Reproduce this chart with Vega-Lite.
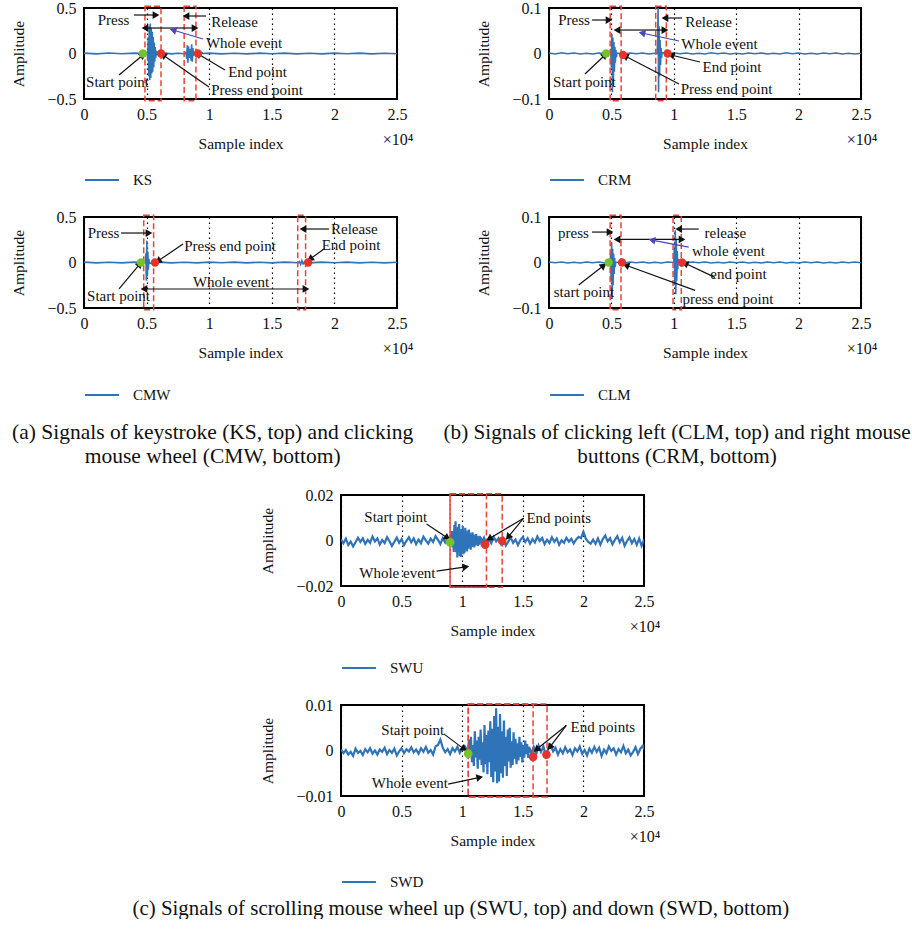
{
"$schema": "https://vega.github.io/schema/vega-lite/v6.json",
"background": "white",
"padding": {"left": 10, "top": -1, "right": 0, "bottom": 0},
"config": {
 "font": "Liberation Serif",
 "view": {"stroke": "black", "strokeWidth": 2},
 "axis": {"domain": false, "ticks": false, "labelFont": "Liberation Serif", "labelFontSize": 16, "labelColor": "#111", "titleFont": "Liberation Serif", "titleFontSize": 15.5, "titleFontWeight": "normal", "titleColor": "#111", "labelFlush": false, "labelOverlap": false, "grid": false},
 "axisX": {"grid": true, "gridColor": "black", "gridDash": [1.5, 3.5], "gridWidth": 1.2, "gridOpacity": 1, "labelPadding": 7, "titlePadding": 14},
 "axisY": {"grid": false, "labelPadding": 8, "titlePadding": 20},
 "legend": {"orient": "bottom", "offset": 10, "labelFont": "Liberation Serif", "labelFontSize": 15, "labelColor": "#111", "symbolType": "stroke", "symbolStrokeWidth": 2, "symbolSize": 1150, "labelOffset": 13, "padding": 0},
 "title": {"font": "Liberation Serif", "fontSize": 21.5, "fontWeight": "normal", "color": "#111", "orient": "bottom", "anchor": "middle", "lineHeight": 24, "offset": 18},
 "text": {"font": "Liberation Serif", "color": "#111"}
},
"title": {"text": "(c) Signals of scrolling mouse wheel up (SWU, top) and down (SWD, bottom)", "anchor": "middle", "orient": "bottom", "offset": 7, "fontSize": 20.9},
"datasets": {
 "sKS": [{"x":0,"y":0.004},{"x":0.1,"y":-0.004},{"x":0.2,"y":0.005},{"x":0.3,"y":-0.003},{"x":0.4,"y":0.004},{"x":0.5,"y":-0.004},{"x":0.505,"y":0.02},{"x":0.509,"y":-0.08},{"x":0.513,"y":0.18},{"x":0.517,"y":-0.25},{"x":0.521,"y":0.3},{"x":0.525,"y":-0.29},{"x":0.529,"y":0.33},{"x":0.533,"y":-0.27},{"x":0.537,"y":0.28},{"x":0.541,"y":-0.22},{"x":0.545,"y":0.24},{"x":0.549,"y":-0.2},{"x":0.553,"y":0.18},{"x":0.557,"y":-0.15},{"x":0.561,"y":0.12},{"x":0.565,"y":-0.09},{"x":0.569,"y":0.07},{"x":0.573,"y":-0.05},{"x":0.577,"y":0.03},{"x":0.581,"y":-0.02},{"x":0.585,"y":0.01},{"x":0.59,"y":0},{"x":0.65,"y":0.004},{"x":0.7,"y":-0.004},{"x":0.75,"y":0.003},{"x":0.81,"y":-0.003},{"x":0.815,"y":0.02},{"x":0.82,"y":-0.06},{"x":0.825,"y":0.09},{"x":0.83,"y":-0.1},{"x":0.835,"y":0.08},{"x":0.84,"y":-0.05},{"x":0.845,"y":0.03},{"x":0.85,"y":0.05},{"x":0.855,"y":-0.08},{"x":0.86,"y":0.1},{"x":0.865,"y":-0.09},{"x":0.87,"y":0.06},{"x":0.875,"y":-0.03},{"x":0.88,"y":0.01},{"x":0.9,"y":-0.003},{"x":1.0,"y":0.004},{"x":1.1,"y":-0.004},{"x":1.2,"y":0.003},{"x":1.3,"y":-0.004},{"x":1.4,"y":0.004},{"x":1.5,"y":-0.003},{"x":1.6,"y":0.004},{"x":1.7,"y":-0.004},{"x":1.8,"y":0.003},{"x":1.9,"y":-0.004},{"x":2.0,"y":0.004},{"x":2.1,"y":-0.003},{"x":2.2,"y":0.004},{"x":2.3,"y":-0.004},{"x":2.4,"y":0.003},{"x":2.5,"y":-0.003}],
 "rKS": [{"x":0.487,"x2":0.615,"y":-0.52,"y2":0.52},{"x":0.80,"x2":0.894,"y":-0.52,"y2":0.52}],
 "aKS": [{"x":0.575,"y":0.423,"x2":0.399,"y2":0.423,"a":90,"k":"b"},{"x":0.815,"y":0.412,"x2":0.974,"y2":0.412,"a":-90,"k":"b"},{"x":0.487,"y":0.28,"x2":0.687,"y2":0.28,"a":-90,"k":"b"},{"x":0.887,"y":0.28,"x2":0.687,"y2":0.28,"a":90,"k":"b"},{"x":0.711,"y":0.258,"x2":0.95,"y2":0.159,"a":-73,"k":"w"},{"x":0.471,"y":-0.016,"x2":0.28,"y2":-0.236,"a":50,"k":"b"},{"x":0.631,"y":-0.016,"x2":0.998,"y2":-0.368,"a":-55,"k":"b"},{"x":0.911,"y":-0.005,"x2":1.126,"y2":-0.181,"a":-59,"k":"b"}],
 "pKS": [{"x":0.47,"y":0,"k":"s"},{"x":0.615,"y":0,"k":"e"},{"x":0.91,"y":0,"k":"e"}],
 "tKS": [{"x":0.236,"y":0.368,"t":"Press"},{"x":1.202,"y":0.346,"t":"Release"},{"x":1.278,"y":0.115,"t":"Whole event"},{"x":0.268,"y":-0.313,"t":"Start point"},{"x":1.382,"y":-0.401,"t":"Press end point"},{"x":1.386,"y":-0.203,"t":"End point"}],
 "xKS": [{"x":2.5,"y":-0.5,"t":"×10⁴"}],

 "sCRM": [{"x":0,"y":0.001},{"x":0.05,"y":-0.001},{"x":0.1,"y":0.0015},{"x":0.15,"y":-0.0005},{"x":0.2,"y":0.001},{"x":0.25,"y":-0.0012},{"x":0.3,"y":0.0005},{"x":0.35,"y":-0.001},{"x":0.4,"y":0.0012},{"x":0.45,"y":-0.0005},{"x":0.49,"y":0},{"x":0.495,"y":0.01},{"x":0.5,"y":-0.03},{"x":0.504,"y":0.043},{"x":0.508,"y":-0.085},{"x":0.512,"y":0.035},{"x":0.516,"y":-0.06},{"x":0.52,"y":0.025},{"x":0.524,"y":-0.04},{"x":0.528,"y":0.015},{"x":0.532,"y":-0.02},{"x":0.536,"y":0.008},{"x":0.54,"y":-0.008},{"x":0.545,"y":0.001},{"x":0.6,"y":-0.001},{"x":0.65,"y":0.0012},{"x":0.7,"y":-0.0005},{"x":0.75,"y":0.001},{"x":0.8,"y":-0.0012},{"x":0.85,"y":0.0005},{"x":0.865,"y":0},{"x":0.87,"y":0.02},{"x":0.874,"y":0.1},{"x":0.878,"y":-0.085},{"x":0.882,"y":0.06},{"x":0.886,"y":-0.05},{"x":0.89,"y":0.03},{"x":0.894,"y":-0.025},{"x":0.898,"y":0.012},{"x":0.902,"y":-0.01},{"x":0.906,"y":0.002},{"x":0.95,"y":-0.001},{"x":1.0,"y":0.0012},{"x":1.05,"y":-0.0005},{"x":1.1,"y":0.001},{"x":1.15,"y":-0.0012},{"x":1.2,"y":0.0005},{"x":1.25,"y":-0.001},{"x":1.3,"y":0.0015},{"x":1.35,"y":-0.0005},{"x":1.4,"y":0.001},{"x":1.45,"y":-0.0012},{"x":1.5,"y":0.0005},{"x":1.55,"y":-0.001},{"x":1.6,"y":0.0012},{"x":1.65,"y":-0.0005},{"x":1.7,"y":0.001},{"x":1.75,"y":-0.0012},{"x":1.8,"y":0.0005},{"x":1.85,"y":-0.001},{"x":1.9,"y":0.0015},{"x":1.95,"y":-0.0005},{"x":2.0,"y":0.001},{"x":2.05,"y":-0.0012},{"x":2.1,"y":0.0005},{"x":2.15,"y":-0.001},{"x":2.2,"y":0.0012},{"x":2.25,"y":-0.0005},{"x":2.3,"y":0.001},{"x":2.35,"y":-0.0012},{"x":2.4,"y":0.0005},{"x":2.45,"y":-0.001},{"x":2.5,"y":0.0005}],
 "rCRM": [{"x":0.49,"x2":0.578,"y":-0.104,"y2":0.104},{"x":0.855,"x2":0.94,"y":-0.104,"y2":0.104}],
 "aCRM": [{"x":0.481,"y":0.0736,"x2":0.345,"y2":0.0736,"a":90,"k":"b"},{"x":0.929,"y":0.078,"x2":1.066,"y2":0.078,"a":-90,"k":"b"},{"x":0.545,"y":0.0516,"x2":0.737,"y2":0.0516,"a":-90,"k":"b"},{"x":0.929,"y":0.0516,"x2":0.737,"y2":0.0516,"a":90,"k":"b"},{"x":0.745,"y":0.045,"x2":1.042,"y2":0.0275,"a":-78,"k":"w"},{"x":0.449,"y":-0.0033,"x2":0.288,"y2":-0.045,"a":46,"k":"b"},{"x":0.609,"y":-0.0055,"x2":1.042,"y2":-0.067,"a":-63,"k":"b"},{"x":0.978,"y":-0.0033,"x2":1.21,"y2":-0.0187,"a":-76,"k":"b"}],
 "pCRM": [{"x":0.457,"y":0,"k":"s"},{"x":0.593,"y":-0.003,"k":"e"},{"x":0.95,"y":0,"k":"e"}],
 "tCRM": [{"x":0.2,"y":0.0736,"t":"Press"},{"x":1.278,"y":0.069,"t":"Release"},{"x":1.366,"y":0.021,"t":"Whole event"},{"x":0.284,"y":-0.0626,"t":"Start point"},{"x":1.422,"y":-0.078,"t":"Press end point"},{"x":1.466,"y":-0.0297,"t":"End point"}],
 "xCRM": [{"x":2.5,"y":-0.1,"t":"×10⁴"}],

 "sCMW": [{"x":0,"y":0.004},{"x":0.1,"y":-0.004},{"x":0.2,"y":0.003},{"x":0.3,"y":-0.004},{"x":0.4,"y":0.004},{"x":0.48,"y":-0.003},{"x":0.49,"y":0},{"x":0.494,"y":0.1},{"x":0.498,"y":-0.2},{"x":0.502,"y":0.24},{"x":0.506,"y":-0.15},{"x":0.51,"y":0.12},{"x":0.514,"y":-0.08},{"x":0.518,"y":0.04},{"x":0.522,"y":-0.01},{"x":0.6,"y":0.004},{"x":0.7,"y":-0.004},{"x":0.8,"y":0.003},{"x":0.9,"y":-0.004},{"x":1.0,"y":0.004},{"x":1.1,"y":-0.003},{"x":1.2,"y":0.004},{"x":1.3,"y":-0.004},{"x":1.4,"y":0.003},{"x":1.5,"y":-0.004},{"x":1.6,"y":0.004},{"x":1.71,"y":-0.003},{"x":1.72,"y":0.01},{"x":1.73,"y":-0.02},{"x":1.74,"y":0.02},{"x":1.75,"y":-0.015},{"x":1.76,"y":0.005},{"x":1.8,"y":-0.004},{"x":1.9,"y":0.004},{"x":2.0,"y":-0.003},{"x":2.1,"y":0.004},{"x":2.2,"y":-0.004},{"x":2.3,"y":0.003},{"x":2.4,"y":-0.004},{"x":2.5,"y":0.003}],
 "rCMW": [{"x":0.477,"x2":0.556,"y":-0.52,"y2":0.52},{"x":1.707,"x2":1.77,"y":-0.52,"y2":0.52}],
 "aCMW": [{"x":0.519,"y":0.324,"x2":0.296,"y2":0.324,"a":90,"k":"b"},{"x":0.591,"y":0.016,"x2":0.791,"y2":0.203,"a":-124,"k":"b"},{"x":0.479,"y":-0.291,"x2":1.126,"y2":-0.291,"a":-90,"k":"b"},{"x":1.773,"y":-0.291,"x2":1.126,"y2":-0.291,"a":90,"k":"b"},{"x":0.447,"y":-0.016,"x2":0.28,"y2":-0.291,"a":40,"k":"b"},{"x":1.749,"y":0.368,"x2":1.957,"y2":0.368,"a":-90,"k":"b"},{"x":1.805,"y":0.038,"x2":1.917,"y2":0.148,"a":-125,"k":"b"}],
 "pCMW": [{"x":0.455,"y":0,"k":"s"},{"x":0.567,"y":0,"k":"e"},{"x":1.79,"y":0,"k":"e"}],
 "tCMW": [{"x":0.156,"y":0.324,"t":"Press"},{"x":1.166,"y":0.181,"t":"Press end point"},{"x":1.174,"y":-0.214,"t":"Whole event"},{"x":0.276,"y":-0.368,"t":"Start point"},{"x":2.159,"y":0.372,"t":"Release"},{"x":2.133,"y":0.19,"t":"End point"}],
 "xCMW": [{"x":2.5,"y":-0.5,"t":"×10⁴"}],

 "sCLM": [{"x":0,"y":0.001},{"x":0.05,"y":-0.0005},{"x":0.1,"y":0.0012},{"x":0.15,"y":-0.001},{"x":0.2,"y":0.0005},{"x":0.25,"y":-0.0012},{"x":0.3,"y":0.001},{"x":0.35,"y":-0.0005},{"x":0.4,"y":0.0012},{"x":0.45,"y":-0.001},{"x":0.49,"y":0},{"x":0.494,"y":0.02},{"x":0.498,"y":-0.04},{"x":0.502,"y":0.044},{"x":0.506,"y":-0.08},{"x":0.51,"y":0.03},{"x":0.514,"y":-0.05},{"x":0.518,"y":0.02},{"x":0.522,"y":-0.025},{"x":0.526,"y":0.01},{"x":0.53,"y":-0.01},{"x":0.535,"y":0.001},{"x":0.6,"y":-0.001},{"x":0.65,"y":0.0012},{"x":0.7,"y":-0.0005},{"x":0.75,"y":0.001},{"x":0.8,"y":-0.0012},{"x":0.85,"y":0.0005},{"x":0.9,"y":-0.001},{"x":0.95,"y":0.0012},{"x":1.0,"y":0},{"x":1.004,"y":0.03},{"x":1.008,"y":-0.05},{"x":1.012,"y":0.071},{"x":1.016,"y":-0.07},{"x":1.02,"y":0.05},{"x":1.024,"y":-0.04},{"x":1.028,"y":0.025},{"x":1.032,"y":-0.015},{"x":1.036,"y":0.008},{"x":1.04,"y":0.001},{"x":1.1,"y":-0.001},{"x":1.15,"y":0.0012},{"x":1.2,"y":-0.0005},{"x":1.25,"y":0.001},{"x":1.3,"y":-0.0012},{"x":1.35,"y":0.0005},{"x":1.4,"y":-0.001},{"x":1.45,"y":0.0012},{"x":1.5,"y":-0.0005},{"x":1.55,"y":0.001},{"x":1.6,"y":-0.0012},{"x":1.65,"y":0.0005},{"x":1.7,"y":-0.001},{"x":1.75,"y":0.0012},{"x":1.8,"y":-0.0005},{"x":1.85,"y":0.001},{"x":1.9,"y":-0.0012},{"x":1.95,"y":0.0005},{"x":2.0,"y":-0.001},{"x":2.05,"y":0.0012},{"x":2.1,"y":-0.0005},{"x":2.15,"y":0.001},{"x":2.2,"y":-0.0012},{"x":2.25,"y":0.0005},{"x":2.3,"y":-0.001},{"x":2.35,"y":0.0012},{"x":2.4,"y":-0.0005},{"x":2.45,"y":0.001},{"x":2.5,"y":-0.0005}],
 "rCLM": [{"x":0.49,"x2":0.577,"y":-0.104,"y2":0.104},{"x":0.994,"x2":1.06,"y":-0.104,"y2":0.104}],
 "aCLM": [{"x":0.489,"y":0.0669,"x2":0.345,"y2":0.0669,"a":90,"k":"b"},{"x":1.039,"y":0.0735,"x2":1.2,"y2":0.0735,"a":-90,"k":"b"},{"x":0.545,"y":0.0507,"x2":0.805,"y2":0.0507,"a":-90,"k":"b"},{"x":1.066,"y":0.0507,"x2":0.805,"y2":0.0507,"a":90,"k":"b"},{"x":0.825,"y":0.0492,"x2":1.119,"y2":0.0337,"a":-79,"k":"w"},{"x":0.438,"y":-0.0067,"x2":0.238,"y2":-0.0496,"a":52,"k":"b"},{"x":0.617,"y":-0.0061,"x2":1.17,"y2":-0.0613,"a":-70,"k":"b"},{"x":1.09,"y":-0.0017,"x2":1.33,"y2":-0.0326,"a":-65,"k":"b"}],
 "pCLM": [{"x":0.478,"y":0,"k":"s"},{"x":0.585,"y":0,"k":"e"},{"x":1.066,"y":0,"k":"e"}],
 "tCLM": [{"x":0.196,"y":0.0653,"t":"press"},{"x":1.413,"y":0.0653,"t":"release"},{"x":1.438,"y":0.0249,"t":"whole event"},{"x":0.28,"y":-0.0658,"t":"start point"},{"x":1.434,"y":-0.0806,"t":"press end point"},{"x":1.518,"y":-0.026,"t":"end point"}],
 "xCLM": [{"x":2.5,"y":-0.1,"t":"×10⁴"}],

 "sSWU": [{"x":0,"y":0.0005},{"x":0.02,"y":-0.0012},{"x":0.04,"y":0.0008},{"x":0.06,"y":-0.002},{"x":0.08,"y":-0.0005},{"x":0.1,"y":-0.0026},{"x":0.12,"y":-0.0008},{"x":0.14,"y":0.0012},{"x":0.16,"y":-0.0006},{"x":0.18,"y":0.001},{"x":0.2,"y":-0.0015},{"x":0.22,"y":0.0003},{"x":0.24,"y":-0.001},{"x":0.26,"y":0.0018},{"x":0.28,"y":-0.0004},{"x":0.3,"y":0.0009},{"x":0.32,"y":-0.0018},{"x":0.34,"y":0.0002},{"x":0.36,"y":-0.0011},{"x":0.38,"y":0.0015},{"x":0.4,"y":-0.0003},{"x":0.42,"y":-0.0024},{"x":0.44,"y":-0.0006},{"x":0.46,"y":0.0013},{"x":0.48,"y":-0.001},{"x":0.5,"y":0.0006},{"x":0.52,"y":-0.002},{"x":0.54,"y":-0.0002},{"x":0.56,"y":0.0014},{"x":0.58,"y":-0.0008},{"x":0.6,"y":0.0009},{"x":0.62,"y":-0.0016},{"x":0.64,"y":0.0004},{"x":0.66,"y":-0.0012},{"x":0.68,"y":0.0017},{"x":0.7,"y":0.0001},{"x":0.72,"y":-0.0014},{"x":0.74,"y":0.0008},{"x":0.76,"y":-0.0007},{"x":0.78,"y":0.0019},{"x":0.8,"y":0.0003},{"x":0.82,"y":-0.0015},{"x":0.84,"y":0.0011},{"x":0.86,"y":-0.0009},{"x":0.88,"y":0.0006},{"x":0.9,"y":-0.0008},{"x":0.905,"y":0.0026},{"x":0.91,"y":-0.0015},{"x":0.915,"y":0.0042},{"x":0.92,"y":-0.003},{"x":0.925,"y":0.0024},{"x":0.93,"y":-0.005},{"x":0.935,"y":0.0068},{"x":0.94,"y":-0.0036},{"x":0.945,"y":0.0085},{"x":0.95,"y":-0.0052},{"x":0.955,"y":0.0046},{"x":0.96,"y":-0.0075},{"x":0.965,"y":0.006},{"x":0.97,"y":-0.004},{"x":0.975,"y":0.0072},{"x":0.98,"y":-0.0068},{"x":0.985,"y":0.0038},{"x":0.99,"y":-0.0072},{"x":0.995,"y":0.005},{"x":1.0,"y":-0.0044},{"x":1.005,"y":0.0064},{"x":1.01,"y":-0.006},{"x":1.015,"y":0.0032},{"x":1.02,"y":-0.0054},{"x":1.025,"y":0.0056},{"x":1.03,"y":-0.003},{"x":1.035,"y":0.0044},{"x":1.04,"y":-0.0048},{"x":1.045,"y":0.0028},{"x":1.05,"y":-0.0036},{"x":1.055,"y":0.0048},{"x":1.06,"y":-0.0024},{"x":1.065,"y":0.0034},{"x":1.07,"y":-0.004},{"x":1.075,"y":0.0022},{"x":1.08,"y":-0.0028},{"x":1.085,"y":0.0036},{"x":1.09,"y":-0.0018},{"x":1.095,"y":0.0026},{"x":1.1,"y":-0.003},{"x":1.105,"y":0.0016},{"x":1.11,"y":-0.0022},{"x":1.115,"y":0.0028},{"x":1.12,"y":-0.0014},{"x":1.125,"y":0.002},{"x":1.13,"y":-0.0024},{"x":1.135,"y":0.0012},{"x":1.14,"y":-0.0018},{"x":1.145,"y":0.002},{"x":1.15,"y":-0.001},{"x":1.155,"y":0.0014},{"x":1.16,"y":-0.0012},{"x":1.18,"y":0.0012},{"x":1.2,"y":-0.0018},{"x":1.22,"y":0.0005},{"x":1.24,"y":-0.0012},{"x":1.26,"y":0.0016},{"x":1.28,"y":-0.0004},{"x":1.3,"y":0.001},{"x":1.32,"y":-0.0015},{"x":1.34,"y":0.0008},{"x":1.36,"y":-0.0022},{"x":1.38,"y":-0.0005},{"x":1.4,"y":0.0013},{"x":1.42,"y":-0.001},{"x":1.44,"y":0.0004},{"x":1.46,"y":-0.002},{"x":1.48,"y":0.0002},{"x":1.5,"y":0.0015},{"x":1.52,"y":-0.0007},{"x":1.54,"y":0.001},{"x":1.56,"y":-0.0014},{"x":1.58,"y":0.0006},{"x":1.6,"y":-0.0009},{"x":1.62,"y":0.0018},{"x":1.64,"y":-0.0002},{"x":1.66,"y":0.0011},{"x":1.68,"y":-0.0016},{"x":1.7,"y":0.0003},{"x":1.72,"y":-0.0011},{"x":1.74,"y":0.0014},{"x":1.76,"y":-0.0006},{"x":1.78,"y":0.0009},{"x":1.8,"y":-0.0019},{"x":1.82,"y":0.0001},{"x":1.84,"y":-0.001},{"x":1.86,"y":0.0012},{"x":1.88,"y":-0.0005},{"x":1.9,"y":0.0008},{"x":1.92,"y":-0.0013},{"x":1.94,"y":0.0005},{"x":1.96,"y":0.0016},{"x":1.98,"y":0.001},{"x":2.0,"y":0.0038},{"x":2.02,"y":0.0008},{"x":2.04,"y":-0.0006},{"x":2.06,"y":-0.0014},{"x":2.08,"y":0.0004},{"x":2.1,"y":-0.0015},{"x":2.12,"y":0.0009},{"x":2.14,"y":-0.0018},{"x":2.16,"y":0.0006},{"x":2.18,"y":0.0022},{"x":2.2,"y":-0.0004},{"x":2.22,"y":0.001},{"x":2.24,"y":-0.0017},{"x":2.26,"y":0.0003},{"x":2.28,"y":0.0019},{"x":2.3,"y":-0.0008},{"x":2.32,"y":0.0012},{"x":2.34,"y":-0.0023},{"x":2.36,"y":-0.0002},{"x":2.38,"y":0.0014},{"x":2.4,"y":-0.0012},{"x":2.42,"y":0.0007},{"x":2.44,"y":-0.0019},{"x":2.46,"y":0.0009},{"x":2.48,"y":-0.0024},{"x":2.5,"y":0.0005}],
 "rSWU": [{"x":0.9,"x2":1.2,"y":-0.0205,"y2":0.0205},{"x":0.9,"x2":1.33,"y":-0.0205,"y2":0.0205}],
 "aSWU": [{"x":0.879,"y":0.0011,"x2":0.706,"y2":0.0073,"a":124,"k":"b"},{"x":1.222,"y":0.0008,"x2":1.507,"y2":0.0098,"a":-121,"k":"b"},{"x":1.378,"y":0.0015,"x2":1.507,"y2":0.0098,"a":-140,"k":"b"},{"x":1.03,"y":-0.0116,"x2":0.788,"y2":-0.0135,"a":81,"k":"b"}],
 "pSWU": [{"x":0.9,"y":-0.0008,"k":"s"},{"x":1.19,"y":-0.0018,"k":"e"},{"x":1.33,"y":-0.0002,"k":"e"}],
 "tSWU": [{"x":0.452,"y":0.0103,"t":"Start point"},{"x":1.796,"y":0.0098,"t":"End points"},{"x":0.465,"y":-0.0145,"t":"Whole event"}],
 "xSWU": [{"x":2.5,"y":-0.02,"t":"×10⁴"}],

 "sSWD": [{"x":0,"y":0.0002},{"x":0.02,"y":-0.0006},{"x":0.04,"y":0.0001},{"x":0.06,"y":-0.0009},{"x":0.08,"y":-0.0003},{"x":0.1,"y":-0.0012},{"x":0.12,"y":0.0004},{"x":0.14,"y":-0.0005},{"x":0.16,"y":-0.0001},{"x":0.18,"y":-0.001},{"x":0.2,"y":0.0003},{"x":0.22,"y":-0.0004},{"x":0.24,"y":0.0005},{"x":0.26,"y":-0.0007},{"x":0.28,"y":0},{"x":0.3,"y":-0.0009},{"x":0.32,"y":0.0002},{"x":0.34,"y":-0.0003},{"x":0.36,"y":0.0006},{"x":0.38,"y":-0.0008},{"x":0.4,"y":0.0001},{"x":0.42,"y":-0.0005},{"x":0.44,"y":0.0004},{"x":0.46,"y":-0.0011},{"x":0.48,"y":-0.0002},{"x":0.5,"y":0.0005},{"x":0.52,"y":-0.0006},{"x":0.54,"y":0.0003},{"x":0.56,"y":-0.0002},{"x":0.58,"y":0.0007},{"x":0.6,"y":-0.0004},{"x":0.62,"y":0.0002},{"x":0.64,"y":-0.0007},{"x":0.66,"y":0.0005},{"x":0.68,"y":-0.0003},{"x":0.7,"y":0.0008},{"x":0.72,"y":-0.0005},{"x":0.74,"y":0.0001},{"x":0.76,"y":-0.0009},{"x":0.78,"y":0.0009},{"x":0.8,"y":0.0012},{"x":0.82,"y":0.0024},{"x":0.84,"y":0.0006},{"x":0.86,"y":-0.0004},{"x":0.88,"y":0.0003},{"x":0.9,"y":-0.0008},{"x":0.92,"y":0.0005},{"x":0.94,"y":-0.0002},{"x":0.96,"y":0.0008},{"x":0.98,"y":-0.0005},{"x":1.0,"y":0.0004},{"x":1.02,"y":0.001},{"x":1.04,"y":0.0002},{"x":1.048,"y":-0.0008},{"x":1.056,"y":0.0024},{"x":1.064,"y":-0.0012},{"x":1.072,"y":0.003},{"x":1.08,"y":-0.0026},{"x":1.088,"y":0.0012},{"x":1.096,"y":-0.0034},{"x":1.104,"y":0.0042},{"x":1.112,"y":-0.0015},{"x":1.12,"y":0.0022},{"x":1.128,"y":-0.004},{"x":1.136,"y":0.003},{"x":1.144,"y":-0.002},{"x":1.152,"y":0.0046},{"x":1.16,"y":-0.0032},{"x":1.168,"y":0.0018},{"x":1.176,"y":-0.0048},{"x":1.184,"y":0.0056},{"x":1.192,"y":-0.003},{"x":1.2,"y":0.0034},{"x":1.208,"y":-0.0052},{"x":1.216,"y":0.0044},{"x":1.224,"y":-0.0026},{"x":1.232,"y":0.0064},{"x":1.24,"y":-0.0058},{"x":1.248,"y":0.0048},{"x":1.256,"y":-0.007},{"x":1.264,"y":0.0076},{"x":1.272,"y":-0.0046},{"x":1.28,"y":0.0093},{"x":1.288,"y":-0.0072},{"x":1.296,"y":0.0052},{"x":1.304,"y":-0.0068},{"x":1.312,"y":0.008},{"x":1.32,"y":-0.005},{"x":1.328,"y":0.0042},{"x":1.336,"y":-0.006},{"x":1.344,"y":0.0066},{"x":1.352,"y":-0.0034},{"x":1.36,"y":0.003},{"x":1.368,"y":-0.0056},{"x":1.376,"y":0.0046},{"x":1.384,"y":-0.0024},{"x":1.392,"y":0.005},{"x":1.4,"y":-0.0038},{"x":1.408,"y":0.002},{"x":1.416,"y":-0.0032},{"x":1.424,"y":0.004},{"x":1.432,"y":-0.0018},{"x":1.44,"y":0.0026},{"x":1.448,"y":-0.003},{"x":1.456,"y":0.0016},{"x":1.464,"y":-0.0022},{"x":1.472,"y":0.003},{"x":1.48,"y":-0.0014},{"x":1.488,"y":0.0018},{"x":1.496,"y":-0.0026},{"x":1.504,"y":0.0012},{"x":1.512,"y":-0.0016},{"x":1.52,"y":0.0022},{"x":1.528,"y":-0.0008},{"x":1.536,"y":0.0014},{"x":1.544,"y":-0.0016},{"x":1.552,"y":0.0008},{"x":1.57,"y":-0.0006},{"x":1.59,"y":0.0008},{"x":1.61,"y":-0.0009},{"x":1.63,"y":0.0011},{"x":1.65,"y":-0.0003},{"x":1.67,"y":0.0009},{"x":1.69,"y":-0.0012},{"x":1.71,"y":0.0004},{"x":1.73,"y":0.0012},{"x":1.75,"y":-0.0002},{"x":1.77,"y":0.0006},{"x":1.79,"y":-0.0009},{"x":1.81,"y":0.0003},{"x":1.83,"y":-0.0006},{"x":1.85,"y":0.0007},{"x":1.87,"y":-0.0004},{"x":1.89,"y":0.0002},{"x":1.91,"y":-0.001},{"x":1.93,"y":0.0005},{"x":1.95,"y":-0.0002},{"x":1.97,"y":0.0009},{"x":1.99,"y":-0.0007},{"x":2.01,"y":0.0001},{"x":2.03,"y":-0.0011},{"x":2.05,"y":0.0004},{"x":2.07,"y":-0.0005},{"x":2.09,"y":0.0008},{"x":2.11,"y":-0.0003},{"x":2.13,"y":0.0006},{"x":2.15,"y":-0.0012},{"x":2.17,"y":0.0002},{"x":2.19,"y":-0.0006},{"x":2.21,"y":0.0009},{"x":2.23,"y":-0.0001},{"x":2.25,"y":0.0005},{"x":2.27,"y":-0.0009},{"x":2.29,"y":0.0003},{"x":2.31,"y":-0.0004},{"x":2.33,"y":0.001},{"x":2.35,"y":-0.0006},{"x":2.37,"y":0.0002},{"x":2.39,"y":-0.0011},{"x":2.41,"y":-0.0003},{"x":2.43,"y":0.0007},{"x":2.45,"y":-0.0008},{"x":2.47,"y":0.0004},{"x":2.49,"y":0.001},{"x":2.5,"y":0.0003}],
 "rSWD": [{"x":1.05,"x2":1.585,"y":-0.0102,"y2":0.0102},{"x":1.05,"x2":1.7,"y":-0.0102,"y2":0.0102}],
 "aSWD": [{"x":1.016,"y":0.0003,"x2":0.848,"y2":0.00365,"a":126,"k":"b"},{"x":1.612,"y":0.0002,"x2":1.859,"y2":0.0055,"a":-129,"k":"b"},{"x":1.722,"y":0.0007,"x2":1.859,"y2":0.0055,"a":-142,"k":"b"},{"x":1.145,"y":-0.0059,"x2":0.884,"y2":-0.0074,"a":79,"k":"b"}],
 "pSWD": [{"x":1.05,"y":-0.0007,"k":"s"},{"x":1.585,"y":-0.0014,"k":"e"},{"x":1.695,"y":-0.0009,"k":"e"}],
 "tSWD": [{"x":0.592,"y":0.0046,"t":"Start point"},{"x":2.161,"y":0.0051,"t":"End points"},{"x":0.568,"y":-0.0072,"t":"Whole event"}],
 "xSWD": [{"x":2.5,"y":-0.01,"t":"×10⁴"}]
},
"vconcat": [
 {"hconcat": [
  {"vconcat": [
   {"width": 313, "height": 91,
    "encoding": {"x": {"field":"x","type":"quantitative","scale":{"domain":[0,2.5],"nice":false,"zero":false},"axis":{"values":[0,0.5,1,1.5,2,2.5],"format":"~g","title":"Sample index","grid":true}},
                 "y": {"field":"y","type":"quantitative","scale":{"domain":[-0.5,0.5],"nice":false,"zero":false},"axis":{"values":[-0.5,0,0.5],"format":"~g","title":"Amplitude","grid":false}}},
    "layer": [
     {"data":{"name":"sKS"},"mark":{"type":"line","strokeWidth":1.6,"clip":true},"encoding":{"color":{"datum":"KS","scale":{"range":["#2f74b8"]},"legend":{"title":null,"offset":10}}}},
     {"data":{"name":"rKS"},"mark":{"type":"rect","filled":false,"stroke":"#e8443a","strokeDash":[6,3],"strokeWidth":1.5},"encoding":{"x2":{"field":"x2"},"y2":{"field":"y2"}}},
     {"data":{"name":"aKS"},"mark":{"type":"rule","strokeWidth":1.2},"encoding":{"x2":{"field":"x2"},"y2":{"field":"y2"},"color":{"condition":{"test":"datum.k==='w'","value":"#4848b8"},"value":"#111"}}},
     {"data":{"name":"aKS"},"mark":{"type":"point","shape":"triangle-up","filled":true,"size":60,"opacity":1},"encoding":{"angle":{"field":"a","type":"quantitative","scale":null},"color":{"condition":{"test":"datum.k==='w'","value":"#4848b8"},"value":"#111"}}},
     {"data":{"name":"pKS"},"mark":{"type":"point","filled":true,"size":70,"opacity":1},"encoding":{"color":{"condition":{"test":"datum.k==='s'","value":"#76c22a"},"value":"#e4332a"}}},
     {"data":{"name":"tKS"},"mark":{"type":"text","fontSize":15,"baseline":"middle"},"encoding":{"text":{"field":"t"}}},
     {"data":{"name":"xKS"},"mark":{"type":"text","fontSize":16,"dy":41,"dx":1},"encoding":{"text":{"field":"t"}}}
    ]},
   {"width": 313, "height": 91,
    "encoding": {"x": {"field":"x","type":"quantitative","scale":{"domain":[0,2.5],"nice":false,"zero":false},"axis":{"values":[0,0.5,1,1.5,2,2.5],"format":"~g","title":"Sample index","grid":true}},
                 "y": {"field":"y","type":"quantitative","scale":{"domain":[-0.5,0.5],"nice":false,"zero":false},"axis":{"values":[-0.5,0,0.5],"format":"~g","title":"Amplitude","grid":false}}},
    "layer": [
     {"data":{"name":"sCMW"},"mark":{"type":"line","strokeWidth":1.6,"clip":true},"encoding":{"color":{"datum":"CMW","scale":{"range":["#2f74b8"]},"legend":{"title":null,"offset":16}}}},
     {"data":{"name":"rCMW"},"mark":{"type":"rect","filled":false,"stroke":"#e8443a","strokeDash":[6,3],"strokeWidth":1.5},"encoding":{"x2":{"field":"x2"},"y2":{"field":"y2"}}},
     {"data":{"name":"aCMW"},"mark":{"type":"rule","strokeWidth":1.2},"encoding":{"x2":{"field":"x2"},"y2":{"field":"y2"},"color":{"value":"#111"}}},
     {"data":{"name":"aCMW"},"mark":{"type":"point","shape":"triangle-up","filled":true,"size":60,"opacity":1},"encoding":{"angle":{"field":"a","type":"quantitative","scale":null},"color":{"value":"#111"}}},
     {"data":{"name":"pCMW"},"mark":{"type":"point","filled":true,"size":70,"opacity":1},"encoding":{"color":{"condition":{"test":"datum.k==='s'","value":"#76c22a"},"value":"#e4332a"}}},
     {"data":{"name":"tCMW"},"mark":{"type":"text","fontSize":15,"baseline":"middle"},"encoding":{"text":{"field":"t"}}},
     {"data":{"name":"xCMW"},"mark":{"type":"text","fontSize":16,"dy":41,"dx":1},"encoding":{"text":{"field":"t"}}}
    ]}
  ], "spacing": 19,
   "resolve": {"scale": {"color":"independent","x":"independent","y":"independent"}, "legend": {"color":"independent"}},
   "title": {"text": ["(a) Signals of keystroke (KS, top) and clicking", "mouse wheel (CMW, bottom)"], "anchor": "middle", "orient": "bottom", "fontSize": 21.5}},
  {"vconcat": [
   {"width": 312, "height": 91,
    "encoding": {"x": {"field":"x","type":"quantitative","scale":{"domain":[0,2.5],"nice":false,"zero":false},"axis":{"values":[0,0.5,1,1.5,2,2.5],"format":"~g","title":"Sample index","grid":true}},
                 "y": {"field":"y","type":"quantitative","scale":{"domain":[-0.1,0.1],"nice":false,"zero":false},"axis":{"values":[-0.1,0,0.1],"format":"~g","title":"Amplitude","grid":false}}},
    "layer": [
     {"data":{"name":"sCRM"},"mark":{"type":"line","strokeWidth":1.6,"clip":true},"encoding":{"color":{"datum":"CRM","scale":{"range":["#2f74b8"]},"legend":{"title":null,"offset":10}}}},
     {"data":{"name":"rCRM"},"mark":{"type":"rect","filled":false,"stroke":"#e8443a","strokeDash":[6,3],"strokeWidth":1.5},"encoding":{"x2":{"field":"x2"},"y2":{"field":"y2"}}},
     {"data":{"name":"aCRM"},"mark":{"type":"rule","strokeWidth":1.2},"encoding":{"x2":{"field":"x2"},"y2":{"field":"y2"},"color":{"condition":{"test":"datum.k==='w'","value":"#4848b8"},"value":"#111"}}},
     {"data":{"name":"aCRM"},"mark":{"type":"point","shape":"triangle-up","filled":true,"size":60,"opacity":1},"encoding":{"angle":{"field":"a","type":"quantitative","scale":null},"color":{"condition":{"test":"datum.k==='w'","value":"#4848b8"},"value":"#111"}}},
     {"data":{"name":"pCRM"},"mark":{"type":"point","filled":true,"size":70,"opacity":1},"encoding":{"color":{"condition":{"test":"datum.k==='s'","value":"#76c22a"},"value":"#e4332a"}}},
     {"data":{"name":"tCRM"},"mark":{"type":"text","fontSize":15,"baseline":"middle"},"encoding":{"text":{"field":"t"}}},
     {"data":{"name":"xCRM"},"mark":{"type":"text","fontSize":16,"dy":41,"dx":1},"encoding":{"text":{"field":"t"}}}
    ]},
   {"width": 312, "height": 91,
    "encoding": {"x": {"field":"x","type":"quantitative","scale":{"domain":[0,2.5],"nice":false,"zero":false},"axis":{"values":[0,0.5,1,1.5,2,2.5],"format":"~g","title":"Sample index","grid":true}},
                 "y": {"field":"y","type":"quantitative","scale":{"domain":[-0.1,0.1],"nice":false,"zero":false},"axis":{"values":[-0.1,0,0.1],"format":"~g","title":"Amplitude","grid":false}}},
    "layer": [
     {"data":{"name":"sCLM"},"mark":{"type":"line","strokeWidth":1.6,"clip":true},"encoding":{"color":{"datum":"CLM","scale":{"range":["#2f74b8"]},"legend":{"title":null,"offset":16}}}},
     {"data":{"name":"rCLM"},"mark":{"type":"rect","filled":false,"stroke":"#e8443a","strokeDash":[6,3],"strokeWidth":1.5},"encoding":{"x2":{"field":"x2"},"y2":{"field":"y2"}}},
     {"data":{"name":"aCLM"},"mark":{"type":"rule","strokeWidth":1.2},"encoding":{"x2":{"field":"x2"},"y2":{"field":"y2"},"color":{"condition":{"test":"datum.k==='w'","value":"#4848b8"},"value":"#111"}}},
     {"data":{"name":"aCLM"},"mark":{"type":"point","shape":"triangle-up","filled":true,"size":60,"opacity":1},"encoding":{"angle":{"field":"a","type":"quantitative","scale":null},"color":{"condition":{"test":"datum.k==='w'","value":"#4848b8"},"value":"#111"}}},
     {"data":{"name":"pCLM"},"mark":{"type":"point","filled":true,"size":70,"opacity":1},"encoding":{"color":{"condition":{"test":"datum.k==='s'","value":"#76c22a"},"value":"#e4332a"}}},
     {"data":{"name":"tCLM"},"mark":{"type":"text","fontSize":15,"baseline":"middle"},"encoding":{"text":{"field":"t"}}},
     {"data":{"name":"xCLM"},"mark":{"type":"text","fontSize":16,"dy":41,"dx":1},"encoding":{"text":{"field":"t"}}}
    ]}
  ], "spacing": 19,
   "resolve": {"scale": {"color":"independent","x":"independent","y":"independent"}, "legend": {"color":"independent"}},
   "title": {"text": ["(b) Signals of clicking left (CLM, top) and right mouse", "buttons (CRM, bottom)"], "anchor": "middle", "orient": "bottom", "fontSize": 21.2}}
 ], "spacing": 28,
  "resolve": {"scale": {"color":"independent","x":"independent","y":"independent"}, "legend": {"color":"independent"}}},
 {"hconcat": [
  {"width": 175, "height": 1, "view": {"stroke": null}, "data": {"values": []}, "mark": "point"},
  {"vconcat": [
   {"width": 303, "height": 91,
    "encoding": {"x": {"field":"x","type":"quantitative","scale":{"domain":[0,2.5],"nice":false,"zero":false},"axis":{"values":[0,0.5,1,1.5,2,2.5],"format":"~g","title":"Sample index","grid":true}},
                 "y": {"field":"y","type":"quantitative","scale":{"domain":[-0.02,0.02],"nice":false,"zero":false},"axis":{"values":[-0.02,0,0.02],"format":"~g","title":"Amplitude","grid":false}}},
    "layer": [
     {"data":{"name":"sSWU"},"mark":{"type":"line","strokeWidth":2.2,"clip":true},"encoding":{"color":{"datum":"SWU","scale":{"range":["#2f74b8"]},"legend":{"title":null,"offset":11,"symbolStrokeWidth":2}}}},
     {"data":{"name":"rSWU"},"mark":{"type":"rect","filled":false,"stroke":"#e8443a","strokeDash":[6,3],"strokeWidth":1.5},"encoding":{"x2":{"field":"x2"},"y2":{"field":"y2"}}},
     {"data":{"name":"aSWU"},"mark":{"type":"rule","strokeWidth":1.2},"encoding":{"x2":{"field":"x2"},"y2":{"field":"y2"},"color":{"value":"#111"}}},
     {"data":{"name":"aSWU"},"mark":{"type":"point","shape":"triangle-up","filled":true,"size":60,"opacity":1},"encoding":{"angle":{"field":"a","type":"quantitative","scale":null},"color":{"value":"#111"}}},
     {"data":{"name":"pSWU"},"mark":{"type":"point","filled":true,"size":75,"opacity":1},"encoding":{"color":{"condition":{"test":"datum.k==='s'","value":"#76c22a"},"value":"#e4332a"}}},
     {"data":{"name":"tSWU"},"mark":{"type":"text","fontSize":15,"baseline":"middle"},"encoding":{"text":{"field":"t"}}},
     {"data":{"name":"xSWU"},"mark":{"type":"text","fontSize":16,"dy":41,"dx":1},"encoding":{"text":{"field":"t"}}}
    ]},
   {"width": 303, "height": 91,
    "encoding": {"x": {"field":"x","type":"quantitative","scale":{"domain":[0,2.5],"nice":false,"zero":false},"axis":{"values":[0,0.5,1,1.5,2,2.5],"format":"~g","title":"Sample index","grid":true}},
                 "y": {"field":"y","type":"quantitative","scale":{"domain":[-0.01,0.01],"nice":false,"zero":false},"axis":{"values":[-0.01,0,0.01],"format":"~g","title":"Amplitude","grid":false}}},
    "layer": [
     {"data":{"name":"sSWD"},"mark":{"type":"line","strokeWidth":2.2,"clip":true},"encoding":{"color":{"datum":"SWD","scale":{"range":["#2f74b8"]},"legend":{"title":null,"offset":15,"symbolStrokeWidth":2}}}},
     {"data":{"name":"rSWD"},"mark":{"type":"rect","filled":false,"stroke":"#e8443a","strokeDash":[6,3],"strokeWidth":1.5},"encoding":{"x2":{"field":"x2"},"y2":{"field":"y2"}}},
     {"data":{"name":"aSWD"},"mark":{"type":"rule","strokeWidth":1.2},"encoding":{"x2":{"field":"x2"},"y2":{"field":"y2"},"color":{"value":"#111"}}},
     {"data":{"name":"aSWD"},"mark":{"type":"point","shape":"triangle-up","filled":true,"size":60,"opacity":1},"encoding":{"angle":{"field":"a","type":"quantitative","scale":null},"color":{"value":"#111"}}},
     {"data":{"name":"pSWD"},"mark":{"type":"point","filled":true,"size":75,"opacity":1},"encoding":{"color":{"condition":{"test":"datum.k==='s'","value":"#76c22a"},"value":"#e4332a"}}},
     {"data":{"name":"tSWD"},"mark":{"type":"text","fontSize":15,"baseline":"middle"},"encoding":{"text":{"field":"t"}}},
     {"data":{"name":"xSWD"},"mark":{"type":"text","fontSize":16,"dy":41,"dx":1},"encoding":{"text":{"field":"t"}}}
    ]}
  ], "spacing": 19,
   "resolve": {"scale": {"color":"independent","x":"independent","y":"independent"}, "legend": {"color":"independent"}}}
 ], "spacing": 0,
  "resolve": {"scale": {"color":"independent","x":"independent","y":"independent"}, "legend": {"color":"independent"}}}
],
"spacing": 18,
"resolve": {"scale": {"color":"independent","x":"independent","y":"independent"}, "legend": {"color":"independent"}}
}
